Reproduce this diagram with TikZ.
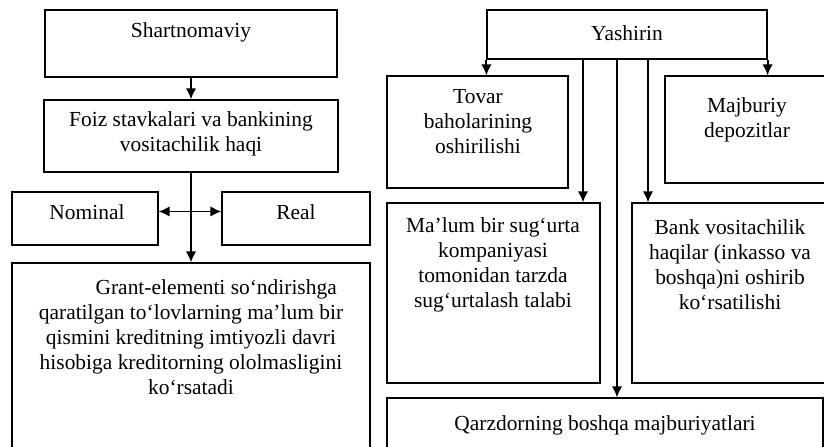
\documentclass[tikz,border=0pt]{standalone}
\usepackage{fontspec}
\setmainfont{Liberation Serif}
\usetikzlibrary{arrows.meta,fit}
\tikzstyle{box}=[draw=black,line width=1pt,inner sep=0pt]
\tikzstyle{txt}=[align=center,inner sep=0pt,font=\fontsize{18.3}{21.4}\selectfont]
\tikzstyle{arr}=[line width=1.6pt,-{Latex[length=9.5pt,width=9pt]}]
\tikzstyle{arrr}=[line width=1.6pt,{Latex[length=9.5pt,width=9pt]}-{Latex[length=9.5pt,width=9pt]}]

\begin{document}
\begin{tikzpicture}[x=0.03cm,y=-0.03cm]
\useasboundingbox (0,0) rectangle (824,446);
\clip (0,0) rectangle (824,446);
\node[box,fit={(45,10) (337,77)}] (shart) {};
\node[box,fit={(44,100) (338,172)}] (foiz) {};
\node[box,fit={(12,192) (158,245)}] (nominal) {};
\node[box,fit={(222,192) (370,245)}] (real) {};
\node[box,fit={(12,263) (370,470)}] (grant) {};
\node[box,fit={(487,10) (767,59)}] (yash) {};
\node[box,fit={(387,76) (568,188)}] (tovar) {};
\node[box,fit={(665,76) (830,183)}] (majb) {};
\node[box,fit={(387,203) (600,383)}] (malum) {};
\node[box,fit={(632,203) (830,383)}] (bank) {};
\node[box,fit={(387,398) (823,470)}] (qarz) {};
\node[txt] (shartT) at (191,32) {Shartnomaviy};
\node[txt] (foizT) at (191,134) {Foiz stavkalari va bankining\\vositachilik haqi};
\node[txt] (nominalT) at (87,212) {Nominal};
\node[txt] (realT) at (296,212) {Real};
\node[txt] (grantT) at (191,337) {\hspace*{43pt}Grant-elementi so‘ndirishga\\qaratilgan to‘lovlarning ma’lum bir\\qismini kreditning imtiyozli davri\\hisobiga kreditorning ololmasligini\\ko‘rsatadi};
\node[txt] (yashT) at (627,33) {Yashirin};
\node[txt] (tovarT) at (478,122) {Tovar\\baholarining\\oshirilishi};
\node[txt] (majbT) at (747,120) {Majburiy\\depozitlar};
\node[txt] (malumT) at (493,265) {Ma’lum bir sug‘urta\\kompaniyasi\\tomonidan tarzda\\sug‘urtalash talabi};
\node[txt] (bankT) at (730,265) {Bank vositachilik\\haqilar (inkasso va\\boshqa)ni oshirib\\ko‘rsatilishi};
\node[txt] (qarzT) at (605,425) {Qarzdorning boshqa majburiyatlari};
\coordinate (y1) at (583,59);
\coordinate (y2) at (617,59);
\coordinate (y3) at (648,59);
\draw[arr] (shart.south) -- (foiz.north);
\draw[arr] (foiz.south) -- (grant.north);
\draw[arrr] ([yshift=6pt]nominal.east) -- ([yshift=6pt]real.west);
\draw[arr] (yash.south west) -- (yash.south west |- tovar.north);
\draw[arr] (yash.south east) -- (yash.south east |- majb.north);
\draw[arr] (y1) -- (y1 |- malum.north);
\draw[arr] (y2) -- (y2 |- qarz.north);
\draw[arr] (y3) -- (y3 |- bank.north);
\end{tikzpicture}
\end{document}
